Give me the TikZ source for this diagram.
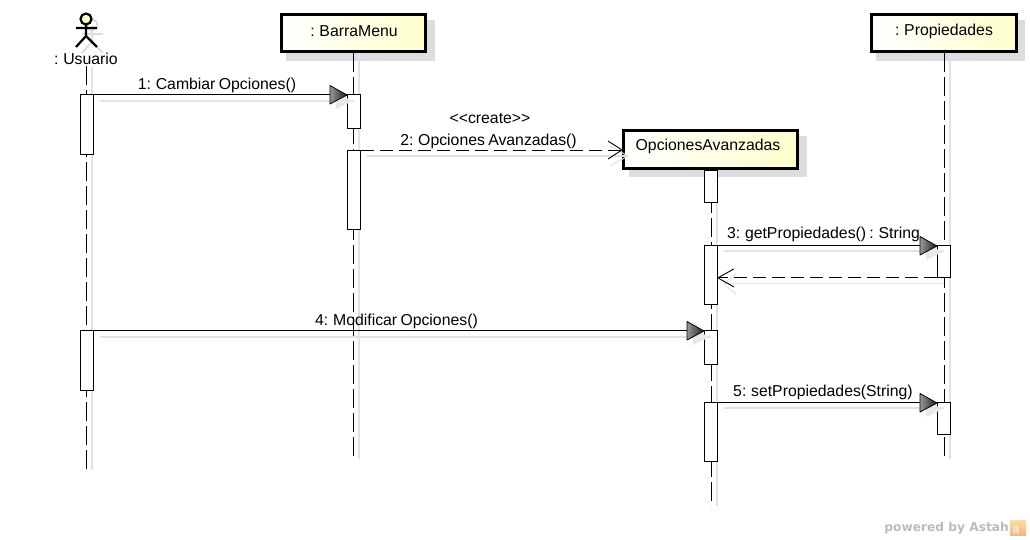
\documentclass[tikz,border=0pt]{standalone}
\usepackage{fontspec}
\setmainfont[WordSpace=0.75]{Liberation Sans}
\newfontfamily\wmfont{DejaVu Sans}
\definecolor{shadowgray}{HTML}{DDDDDD}
\definecolor{lineshadow}{HTML}{E2E2E2}
\definecolor{headyellow}{HTML}{FFFFCC}
\definecolor{wmgray}{HTML}{BBBBBB}
\definecolor{wmtop}{HTML}{FBDF9A}
\definecolor{wmbot}{HTML}{F4B48A}
\tikzset{
  x=1pt,y=-1pt,
  lifebox/.style={draw=black,line width=3pt,left color=white,right color=headyellow,anchor=north west,inner sep=0pt,rectangle},
  boxshadow/.style={fill=shadowgray,draw=none,anchor=north west,inner sep=0pt,rectangle},
  lifeline/.style={draw=black,line width=0.9pt,dash pattern=on 19pt off 5pt},
  lifeshadow/.style={draw=lineshadow,line width=1.1pt},
  actbar/.style={draw=black,fill=white,line width=0.9pt,anchor=north west,inner sep=0pt,minimum width=13pt,rectangle},
  msg/.style={draw=black,line width=0.9pt},
  msgdash/.style={draw=black,line width=0.9pt,dash pattern=on 13pt off 6pt},
  msgshadow/.style={draw=lineshadow,line width=1.1pt},
  txt/.style={font=\fontsize{15.8}{17}\selectfont,inner sep=0pt,text=black},
}
\newcommand{\solidhead}[1]{%
  \fill[shift={(#1)},lineshadow!80] (-11,-1) -- (6,7) -- (-11,15) -- cycle;
  \shade[shift={(#1)},left color=black!40,right color=black!90] (-17,-8.5) -- (0,1) -- (-17,10) -- cycle;
  \draw[shift={(#1)},black,line width=0.8pt,line join=round] (-17,-8.5) -- (0,1) -- (-17,10) -- cycle;
}
\begin{document}
\begin{tikzpicture}
\useasboundingbox (0,0) rectangle (1030,540);
\fill[white] (0,0) rectangle (1030,540);

% header shadows
\node[boxshadow,minimum width=149pt,minimum height=41pt] (sbarra) at (286,20) {};
\node[boxshadow,minimum width=178pt,minimum height=41pt] (sopc) at (629,136) {};
\node[boxshadow,minimum width=149pt,minimum height=41pt] (sprop) at (876,20) {};

% coordinates of lifelines
\coordinate (uT) at (86,66);   \coordinate (uB) at (86,470);
\coordinate (bT) at (353,53);  \coordinate (bB) at (353,459);
\coordinate (oT) at (711,170); \coordinate (oB) at (711,506);
\coordinate (pT) at (944,53);  \coordinate (pB) at (944,459);

% lifeline shadows
\draw[lifeshadow] ([xshift=6pt]uT) -- ([xshift=6pt]uB);
\draw[lifeshadow] ([xshift=6pt]bT) -- ([xshift=6pt]bB);
\draw[lifeshadow] ([xshift=6pt]oT) -- ([xshift=6pt]oB);
\draw[lifeshadow] ([xshift=6pt]pT) -- ([xshift=6pt]pB);
% lifelines
\draw[lifeline] (uT) -- (uB);
\draw[lifeline] (bT) -- (bB);
\draw[lifeline] (oT) -- (oB);
\draw[lifeline] (pT) -- (pB);

% headers
\node[lifebox,minimum width=144pt,minimum height=37pt] (barra) at (280,13) {};
\node[lifebox,minimum width=174pt,minimum height=38pt] (opc) at (622,129) {};
\node[lifebox,minimum width=145pt,minimum height=37pt] (prop) at (870,13) {};
\node[txt] (tbarra) at (354,31) {: BarraMenu};
\node[txt] (topc) at (708,146) {OpcionesAvanzadas};
\node[txt] (tprop) at (944,31) {: Propiedades};

% actor
\begin{scope}[shift={(6,6)},draw=shadowgray,line width=2pt]
  \draw (86,19) circle (5.5);
  \draw (86,25) -- (86,36) (76,28) -- (97,28) (76,47) -- (86,36) -- (97,47);
\end{scope}
\draw[line width=2.2pt,fill=headyellow] (86,19) circle (5.5);
\draw[line width=2.2pt] (86,25) -- (86,36) (76,28) -- (97,28) (76,47) -- (86,36) -- (97,47);
\node[txt] (tuser) at (86,59) {: Usuario};

% activations
\node[actbar,minimum height=60pt] (u1) at (80,94) {};
\node[actbar,minimum height=60pt] (u2) at (80,330) {};
\node[actbar,minimum height=34pt] (b1) at (347,94) {};
\node[actbar,minimum height=79pt] (b2) at (347,150) {};
\node[actbar,minimum height=32pt] (o1) at (704,170) {};
\node[actbar,minimum height=59pt] (o2) at (704,245) {};
\node[actbar,minimum height=34pt] (o3) at (704,330) {};
\node[actbar,minimum height=59pt] (o4) at (704,402) {};
\node[actbar,minimum height=32pt] (p1) at (937,245) {};
\node[actbar,minimum height=32pt] (p2) at (937,402) {};

% message shadows
\draw[msgshadow] ([shift={(6,7)}]u1.north east) -- ([shift={(0,7)}]b1.north);
\draw[msgshadow] ([shift={(6,6)}]b2.north east) -- ([shift={(4,6)}]opc.west |- b2.north);
\draw[msgshadow] ([shift={(6,6)}]o2.north east) -- ([shift={(0,6)}]p1.north);
\draw[msgshadow] ([shift={(0,6)}]p1.south) -- ([shift={(6,6)}]o2.east |- p1.south);
\draw[msgshadow] ([shift={(6,7)}]u2.north east) -- ([shift={(0,7)}]o3.north);
\draw[msgshadow] ([shift={(6,6)}]o4.north east) -- ([shift={(0,6)}]p2.north);
\draw[lineshadow,line width=1pt] ([shift={(-12,-4)}]opc.west |- b2.north) -- ([shift={(6,6)}]opc.west |- b2.north) -- ([shift={(-12,16)}]opc.west |- b2.north);
\draw[lineshadow,line width=1pt] ([shift={(18,-4)}]o2.east |- p1.south) -- ([shift={(6,6)}]o2.east |- p1.south) -- ([shift={(18,16)}]o2.east |- p1.south);

% messages
\draw[msg] (u1.north east) -- (b1.north west);
\draw[msgdash] (b2.north east) -- (opc.west |- b2.north);
\draw[msg] (opc.west |- b2.north) ++(-14,-9) -- ++(14,9) -- ++(-14,9);
\draw[msg] (o2.north east) -- (p1.north west);
\draw[msgdash] (p1.south west) -- (o2.east |- p1.south);
\draw[msg] (o2.east |- p1.south) ++(16,-9) -- ++(-16,9) -- ++(16,9);
\draw[msg] (u2.north east) -- (o3.north west);
\draw[msg] (o4.north east) -- (p2.north west);
\solidhead{b1.north west}
\solidhead{p1.north west}
\solidhead{o3.north west}
\solidhead{p2.north west}

% labels
\node[txt] (m1) at (217,85) {1: Cambiar Opciones()};
\node[txt] (st) at (490,118) {<{}<create>{}>};
\node[txt] (m2) at (488.5,141) {2: Opciones Avanzadas()};
\node[txt] (m3) at (823.5,234) {3: getPropiedades() : String};
\node[txt] (m4) at (396.5,321) {4: Modificar Opciones()};
\node[txt] (m5) at (823,392) {5: setPropiedades(String)};

% watermark
\node[font=\wmfont\fontsize{12.2}{14}\bfseries\selectfont,text=wmgray,inner sep=0pt,anchor=east] (wm) at (1009,528) {powered by Astah};
\shade[top color=wmtop,bottom color=wmbot] (1010,520) rectangle (1026,535);
\node[font=\fontsize{12}{12}\selectfont,text=white,inner sep=0pt] (wma) at (1016,530) {a};
\end{tikzpicture}
\end{document}
